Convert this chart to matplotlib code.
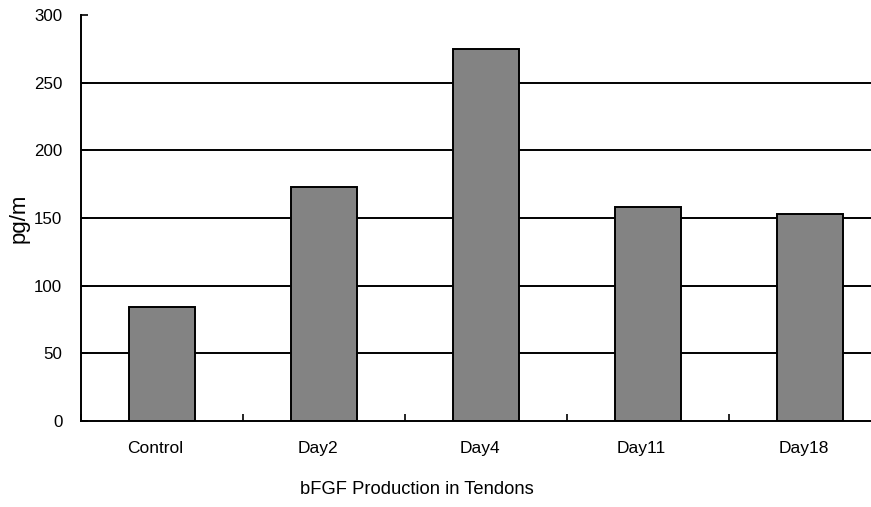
import numpy as np
import matplotlib.pyplot as plt

# values
categories = ['Control', 'Day2', 'Day4', 'Day11', 'Day18']
values = [84, 173, 275, 158, 153]
grid_levels = [50, 100, 150, 200, 250]
y_ticks = [0, 50, 100, 150, 200, 250, 300]

plt.rcParams['font.family'] = ['Liberation Sans', 'DejaVu Sans']

fig = plt.figure(figsize=(8.71, 5.07), dpi=100)
# axes runs a bit past the right edge like the original
ax = fig.add_axes([81 / 871, 1 - 421 / 507, 810 / 871, 406 / 507])

x = np.arange(len(categories))
for lvl in grid_levels:
    ax.axhline(lvl, color='black', lw=1.4, zorder=1)
ax.bar(x, values, width=0.41, color='#838383', edgecolor='black', linewidth=1.4, zorder=2)

ax.set_xlim(-0.5, len(categories) - 0.5)
ax.set_ylim(0, 300)
ax.set_yticks(y_ticks)
ax.tick_params(axis='y', direction='in', length=5, width=1.2, labelsize=12.2, pad=13.5)

# category boundaries get the ticks, labels sit in the middle
ax.set_xticks(np.arange(len(categories) + 1) - 0.5)
ax.set_xticklabels([])
ax.set_xticks(x - 0.04, minor=True)
ax.set_xticklabels(categories, minor=True, fontsize=12.5)
ax.tick_params(axis='x', which='major', direction='in', length=5, width=1.2)
ax.tick_params(axis='x', which='minor', length=0, pad=14.5)

for side in ['top', 'right']:
    ax.spines[side].set_visible(False)
ax.spines['left'].set_linewidth(1.4)
ax.spines['bottom'].set_linewidth(1.4)

fig.text(19 / 871, 1 - 218 / 507, 'pg/m', rotation=90, fontsize=16,
         ha='center', va='center')
fig.text(417 / 871, 1 - 489 / 507, 'bFGF Production in Tendons', fontsize=13.2,
         ha='center', va='center')

fig.savefig('out.png', dpi=100)
